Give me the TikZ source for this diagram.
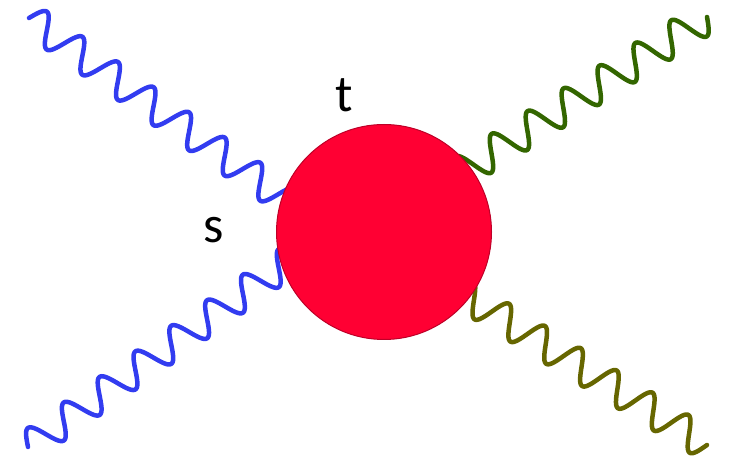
\documentclass[tikz,border=0pt]{standalone}
\usepackage{fontspec}
\setmainfont{Carlito}
\definecolor{wblue}{RGB}{50,60,240}
\definecolor{wgreen}{RGB}{51,102,0}
\definecolor{wolive}{RGB}{102,102,0}
\definecolor{blobfill}{RGB}{255,0,51}
\definecolor{blobline}{RGB}{190,0,40}
\begin{document}
\begin{tikzpicture}[x=1pt,y=1pt,
  wave/.style={line width=4.5pt, line cap=round, line join=round},
  lbl/.style={inner sep=0pt, font=\fontsize{52}{60}\selectfont}]
\useasboundingbox (0,0) rectangle (730,460);
% outer ends of the four wavy lines
\coordinate (tl) at (29,442);
\coordinate (bl) at (28,13);
\coordinate (tr) at (707,443);
\coordinate (br) at (707,15);
% wavy lines (start at outer end, run under the blob)
\begin{scope}[shift={(tl)}, rotate=-35.3]
  \draw[wave, wblue] plot[variable=\t, domain=0:330, samples=500, smooth] (\t, {15.5*sin(\t*8.2569)});
\end{scope}
\begin{scope}[shift={(bl)}, rotate=35.5]
  \draw[wave, wblue] plot[variable=\t, domain=0:330, samples=500, smooth] (\t, {15.5*sin(\t*8.1818)});
\end{scope}
\begin{scope}[shift={(tr)}, rotate=212.3]
  \draw[wave, wgreen] plot[variable=\t, domain=0:310, samples=500, smooth] (\t, {16.3*sin(\t*8.4706)});
\end{scope}
\begin{scope}[shift={(br)}, rotate=148.2]
  \draw[wave, wolive] plot[variable=\t, domain=0:310, samples=500, smooth] (\t, {15.7*sin(\t*8.5308)});
\end{scope}
\node[circle, minimum size=215pt, inner sep=0pt, fill=blobfill, draw=blobline, line width=1pt] (blob) at (384,228) {};
\node[lbl] (t) at (344,365) {t};
\node[lbl] (s) at (214,230) {s};
\end{tikzpicture}
\end{document}
